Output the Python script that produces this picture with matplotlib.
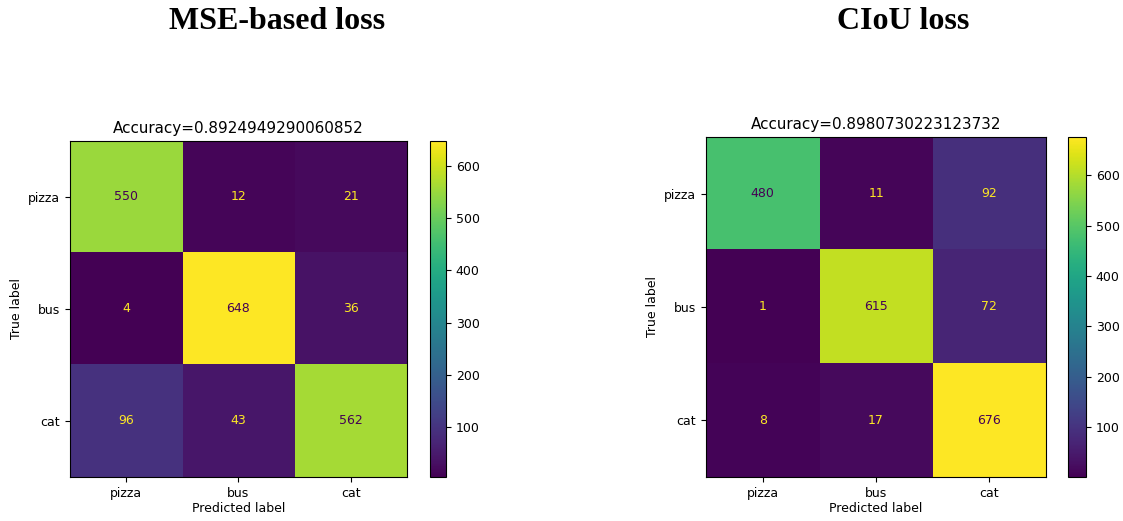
import numpy as np
import matplotlib
matplotlib.use("Agg")
import matplotlib.pyplot as plt

classes = ["pizza", "bus", "cat"]

cm_mse = np.array([[550, 12, 21],
                   [4, 648, 36],
                   [96, 43, 562]])
cm_ciou = np.array([[480, 11, 92],
                    [1, 615, 72],
                    [8, 17, 676]])

acc_mse = "0.8924949290060852"
acc_ciou = "0.8980730223123732"

panel_titles = ["MSE-based loss", "CIoU loss"]


def draw_cm(fig, ax, cax, cm, acc):
    cmap = plt.get_cmap("viridis")
    im = ax.imshow(cm, cmap=cmap, aspect="auto", interpolation="nearest")
    thresh = (cm.max() + cm.min()) / 2.0
    for i in range(cm.shape[0]):
        for j in range(cm.shape[1]):
            color = cmap(0.0) if cm[i, j] >= thresh else cmap(1.0)
            ax.text(j, i, str(cm[i, j]), ha="center", va="center",
                    color=color, fontsize=9)
    ax.set_xticks(range(len(classes)))
    ax.set_yticks(range(len(classes)))
    ax.set_xticklabels(classes, fontsize=9)
    ax.set_yticklabels(classes, fontsize=9)
    ax.set_xlabel("Predicted label", fontsize=9, labelpad=2)
    ax.set_ylabel("True label", fontsize=9)
    ax.set_title("Accuracy=" + acc, fontsize=10.9, pad=6)
    cb = fig.colorbar(im, cax=cax)
    cb.set_ticks([100, 200, 300, 400, 500, 600])
    cb.ax.tick_params(labelsize=9)
    cb.outline.set_linewidth(0.8)


fig = plt.figure(figsize=(11.23, 5.21), dpi=100)

ax1 = fig.add_axes([0.0623, 0.0845, 0.3001, 0.645])
cax1 = fig.add_axes([0.3829, 0.0845, 0.0142, 0.645])
ax2 = fig.add_axes([0.6287, 0.0845, 0.3028, 0.6526])
cax2 = fig.add_axes([0.951, 0.0845, 0.016, 0.6526])

draw_cm(fig, ax1, cax1, cm_mse, acc_mse)
draw_cm(fig, ax2, cax2, cm_ciou, acc_ciou)

fig.text(0.247, 0.958, panel_titles[0], ha="center", va="center",
         family="Liberation Serif", weight="bold", fontsize=23)
fig.text(0.804, 0.958, panel_titles[1], ha="center", va="center",
         family="Liberation Serif", weight="bold", fontsize=23)

fig.savefig("out.png", dpi=100)
